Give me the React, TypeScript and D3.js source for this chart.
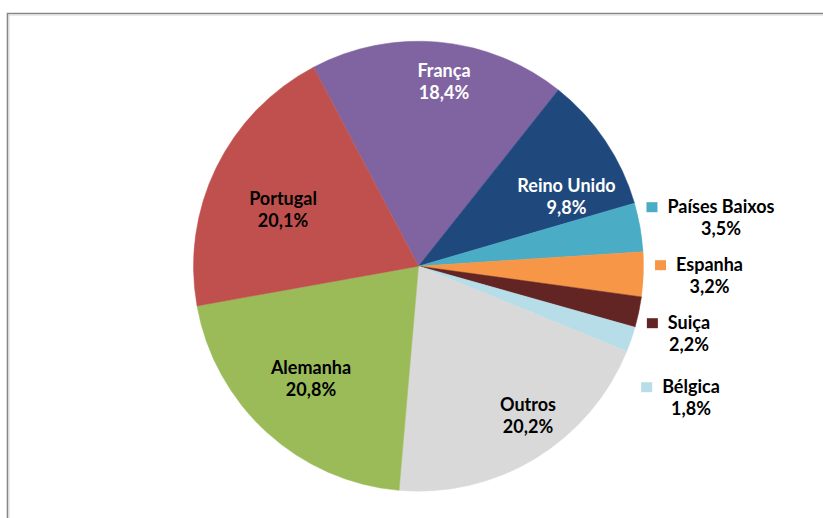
import React, { useEffect, useRef } from "react";
import * as d3 from "d3";

const categories = ["França", "Reino Unido", "Países Baixos", "Espanha", "Suiça", "Bélgica", "Outros", "Alemanha", "Portugal"];
const values = [18.4, 9.8, 3.5, 3.2, 2.2, 1.8, 20.2, 20.8, 20.1];
const valueLabels = ["18,4%", "9,8%", "3,5%", "3,2%", "2,2%", "1,8%", "20,2%", "20,8%", "20,1%"];
const colors = ["#8064A2", "#1F497D", "#4BACC6", "#F79646", "#632523", "#B7DEE8", "#D9D9D9", "#9BBB59", "#C0504D"];
const labelColors = ["#FFFFFF", "#FFFFFF", "#000", "#000", "#000", "#000", "#000", "#000", "#000"];
// label anchor (center of first line baseline) relative to pie centre; outside = with legend key
const labelOffsets: [number, number][] = [
  [25.5, -189], [148, -74], [302.5, -53], [291, 5], [270.5, 63], [272.5, 127], [109.5, 145], [-107.5, 108], [-135.5, -61],
];
const outside = [false, false, true, true, true, true, false, false, false];

const W = 823, H = 518;
const CX = 418.5, CY = 266.2, R = 225;
const START = (-27.8 * Math.PI) / 180;

export default function App() {
  const ref = useRef<SVGSVGElement>(null);
  useEffect(() => {
    const svg = d3.select(ref.current);
    svg.selectAll("*").remove();
    svg.append("rect").attr("width", W).attr("height", H).attr("fill", "#fff");
    // frame
    svg.append("path").attr("d", `M7.5,${H + 5} L7.5,13.5 L${W + 5},13.5`).attr("fill", "none").attr("stroke", "#878787").attr("stroke-width", 1.6);
    svg.append("path").attr("d", `M9,${H + 5} L9,15 L${W + 5},15`).attr("fill", "none").attr("stroke", "#d6d6d6").attr("stroke-width", 1);

    const pie = d3.pie<number>().sort(null).value((d) => d).startAngle(START).endAngle(START + 2 * Math.PI);
    const arcs = pie(values);
    const arc = d3.arc<d3.PieArcDatum<number>>().innerRadius(0).outerRadius(R);
    const g = svg.append("g").attr("transform", `translate(${CX},${CY})`);
    g.selectAll("path.slice").data(arcs).enter().append("path")
      .attr("class", "slice")
      .attr("d", arc as any)
      .attr("fill", (_, i) => colors[i])
      .attr("stroke", (_, i) => colors[i])
      .attr("stroke-width", 0.5);

    const font = "Lato, 'Open Sans', sans-serif";
    const fs = 18;
    categories.forEach((name, i) => {
      const [dx, dy] = labelOffsets[i];
      const x = CX + dx, y = CY + dy;
      const t1 = svg.append("text").attr("x", x).attr("y", y).attr("text-anchor", "middle")
        .attr("font-family", font).attr("font-weight", 700).attr("font-size", fs)
        .attr("fill", labelColors[i]).text(name);
      svg.append("text").attr("x", x).attr("y", y + 22).attr("text-anchor", "middle")
        .attr("font-family", font).attr("font-weight", 700).attr("font-size", fs)
        .attr("fill", labelColors[i]).text(valueLabels[i]);
      if (outside[i]) {
        const w = (t1.node() as SVGTextElement).getComputedTextLength();
        svg.append("rect").attr("x", x - w / 2 - 21).attr("y", y - 11).attr("width", 11).attr("height", 10)
          .attr("fill", colors[i]);
      }
    });
  }, []);
  return (
    <svg ref={ref} width={W} height={H} style={{ position: "absolute", left: 0, top: 0, display: "block" }} />
  );
}
